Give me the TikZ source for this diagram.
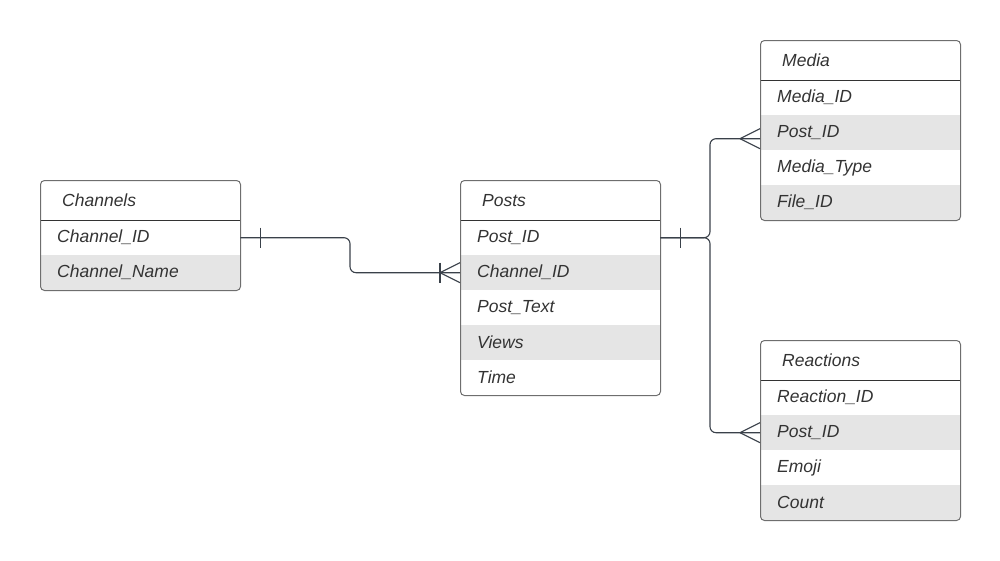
\documentclass[tikz,border=0pt]{standalone}
\usepackage{fontspec}
\setmainfont{Liberation Sans}
\definecolor{txt}{HTML}{333333}
\definecolor{rowgray}{HTML}{E5E5E5}
\definecolor{bord}{HTML}{6E6E6E}
\definecolor{conn}{HTML}{3A414A}
\begin{document}
\begin{tikzpicture}[x=1pt,y=-1pt,
  tbl/.style={draw=bord, line width=1pt, rounded corners=4pt, minimum width=200pt, anchor=north west, inner sep=0pt},
  hdr/.style={minimum width=200pt, minimum height=40pt, inner xsep=22pt, inner ysep=0pt, text width=156pt, align=left, anchor=north west, font=\fontsize{17.5}{20}\selectfont\itshape, text=txt},
  erow/.style={minimum width=200pt, minimum height=35pt, inner xsep=17pt, inner ysep=0pt, text width=166pt, align=left, anchor=north west, font=\fontsize{17.5}{20}\selectfont\itshape, text=txt},
  grayrow/.style={erow, fill=rowgray},
  hline/.style={draw=txt, line width=1pt},
  cn/.style={draw=conn, line width=1.1pt},
  crn/.style={cn, rounded corners=6pt}
]
\useasboundingbox (0,0) rectangle (1000,560);

% ---------- Channels ----------
\begin{scope}
\clip[rounded corners=4pt] (40,180) rectangle (240,290);
\node[hdr] (chH) at (40,180) {Channels};
\node[erow] (chID) at (40,220) {Channel\_ID};
\node[grayrow] (chName) at (40,255) {Channel\_Name};
\end{scope}
\draw[hline] (40,220) -- (240,220);
\node[tbl, minimum height=110pt] (channels) at (40,180) {};

% ---------- Posts ----------
\begin{scope}
\clip[rounded corners=4pt] (460,180) rectangle (660,395);
\node[hdr] (pH) at (460,180) {Posts};
\node[erow] (pPost) at (460,220) {Post\_ID};
\node[grayrow] (pChan) at (460,255) {Channel\_ID};
\node[erow] (pText) at (460,290) {Post\_Text};
\node[grayrow] (pViews) at (460,325) {Views};
\node[erow] (pTime) at (460,360) {Time};
\end{scope}
\draw[hline] (460,220) -- (660,220);
\node[tbl, minimum height=215pt] (posts) at (460,180) {};

% ---------- Media ----------
\begin{scope}
\clip[rounded corners=4pt] (760,40) rectangle (960,220);
\node[hdr] (mH) at (760,40) {Media};
\node[erow] (mID) at (760,80) {Media\_ID};
\node[grayrow] (mPost) at (760,115) {Post\_ID};
\node[erow] (mType) at (760,150) {Media\_Type};
\node[grayrow] (mFile) at (760,185) {File\_ID};
\end{scope}
\draw[hline] (760,80) -- (960,80);
\node[tbl, minimum height=180pt] (media) at (760,40) {};

% ---------- Reactions ----------
\begin{scope}
\clip[rounded corners=4pt] (760,340) rectangle (960,520);
\node[hdr] (rH) at (760,340) {Reactions};
\node[erow] (rID) at (760,380) {Reaction\_ID};
\node[grayrow] (rPost) at (760,415) {Post\_ID};
\node[erow] (rEmoji) at (760,450) {Emoji};
\node[grayrow] (rCount) at (760,485) {Count};
\end{scope}
\draw[hline] (760,380) -- (960,380);
\node[tbl, minimum height=180pt] (reactions) at (760,340) {};

% ---------- Connectors ----------
\coordinate (v1) at (350,0);
\coordinate (v2) at (710,0);
\coordinate (c1a) at (chID.east);
\coordinate (c1b) at (pChan.west);
\coordinate (c2a) at (pPost.east);
\coordinate (c2b) at ([yshift=-6pt]mPost.west);
\coordinate (c3b) at (rPost.west);

% Channels -> Posts
\draw[crn] (c1a) -- (v1 |- c1a) -- (v1 |- c1b) -- (c1b);
\draw[cn] ([xshift=20pt,yshift=10pt]c1a) -- ([xshift=20pt,yshift=-10pt]c1a);
\draw[cn] ([xshift=-20pt,yshift=10pt]c1b) -- ([xshift=-20pt,yshift=-10pt]c1b);
\draw[cn] ([xshift=-20pt]c1b) -- ([yshift=-10pt]c1b);
\draw[cn] ([xshift=-20pt]c1b) -- ([yshift=10pt]c1b);

% Posts -> Media / Reactions
\draw[crn] (c2a) -- (v2 |- c2a) -- (v2 |- c2b) -- (c2b);
\draw[crn] (c2a) -- (v2 |- c2a) -- (v2 |- c3b) -- (c3b);
\draw[cn] ([xshift=20pt,yshift=10pt]c2a) -- ([xshift=20pt,yshift=-10pt]c2a);
\draw[cn] ([xshift=-20pt]c2b) -- ([yshift=-10pt]c2b);
\draw[cn] ([xshift=-20pt]c2b) -- ([yshift=10pt]c2b);
\draw[cn] ([xshift=-20pt]c3b) -- ([yshift=-10pt]c3b);
\draw[cn] ([xshift=-20pt]c3b) -- ([yshift=10pt]c3b);
\end{tikzpicture}
\end{document}
